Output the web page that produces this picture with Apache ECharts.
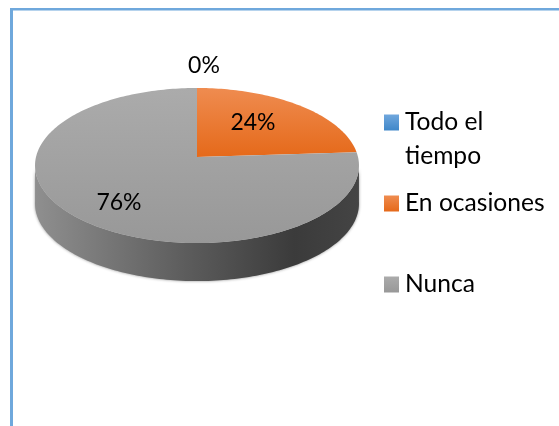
<!DOCTYPE html>
<html><head><meta charset="utf-8">
<style>html,body{margin:0;padding:0;background:#fff}#c{width:559px;height:426px}</style>
<script src="https://cdn.jsdelivr.net/npm/echarts@6/dist/echarts.min.js"></script>
</head><body><div id="c"></div>
<script>
const categories = ['Todo el tiempo', 'En ocasiones', 'Nunca'];
const values = [0, 24, 76];
const percentLabels = ['0%', '24%', '76%'];
const topColors = [['#70a7dd', '#3f87c9'], ['#ef8c50', '#e5691a'], ['#ababab', '#989898']];
const labelAnchors = [[204, 66], [253, 123], [119, 203]];

const FONT = 'Lato, "Open Sans", sans-serif';
// projected disc: apex, half-axes, perspective, extrusion
const P = {x: 197, y: 157, a: 161, b: 76.6, k: 0.11, depth: 38};
const total = values.reduce((s, v) => s + v, 0);
const starts = values.map((_, i) => values.slice(0, i).reduce((s, v) => s + v, 0));

function project(share) {
  const t = share / total * Math.PI * 2;
  const u = Math.sin(t), v = Math.cos(t), w = 1 + P.k * v;
  return [P.x + P.a * u / w, P.y - P.b * v / w];
}
function rim(start, value) {
  const n = Math.max(2, Math.ceil(value * 3)), pts = [];
  for (let i = 0; i <= n; i++) pts.push(project(start + value * i / n));
  return pts;
}
const vGrad = (c, y0, y1) => new echarts.graphic.LinearGradient(0, y0, 0, y1, [
  {offset: 0, color: c[0]}, {offset: 1, color: c[1]}], true);
const sideGrad = new echarts.graphic.LinearGradient(35, 0, 359, 0, [
  {offset: 0, color: '#8f8f8f'}, {offset: 0.45, color: '#5e5e5e'},
  {offset: 0.8, color: '#3b3b3b'}, {offset: 1, color: '#444444'}], true);

function makeRender(idx) {
  return function (params, api) {
    const value = api.value(0), start = api.value(1);
    const children = [];
    if (value > 0) {
      const pts = rim(start, value);
      // only the front of the rim shows a wall
      const front = pts.filter(p => p[1] >= P.y + 6);
      if (front.length > 1) {
        const lower = front.slice().reverse().map(p => [p[0], p[1] + P.depth]);
        children.push({type: 'polygon', shape: {points: front.concat(lower)},
          style: {fill: sideGrad, shadowBlur: 3, shadowColor: 'rgba(0,0,0,0.45)'}});
      }
      children.push({type: 'polygon', shape: {points: [[P.x, P.y]].concat(pts)},
        style: {fill: vGrad(topColors[idx], 88, idx === 1 ? 157 : 243)}});
    }
    children.push({type: 'text', x: labelAnchors[idx][0], y: labelAnchors[idx][1],
      z2: 10,
      style: {text: percentLabels[idx], fill: '#000', font: '23px ' + FONT, align: 'center', verticalAlign: 'middle'}});
    return {type: 'group', children};
  };
}

const chart = echarts.init(document.getElementById('c'), null, {renderer: 'canvas'});
chart.setOption({
  animation: false,
  backgroundColor: '#fff',
  legend: {
    orient: 'vertical', left: 384, top: 110, itemWidth: 15, itemHeight: 16, itemGap: 56,
    icon: 'rect', selectedMode: false, padding: 0,
    formatter: n => n === categories[0] ? 'Todo el' : n,
    textStyle: {fontFamily: FONT, fontSize: 24.6, color: '#000', padding: [0, 0, 0, 1]},
    data: categories.map((name, i) => ({name, itemStyle: {color:
      new echarts.graphic.LinearGradient(0, 0, 0, 1, [{offset: 0, color: topColors[i][0]}, {offset: 1, color: topColors[i][1]}])}}))
  },
  graphic: [
    {type: 'text', left: 405, top: 144, style: {text: 'tiempo', fill: '#000', font: '24.6px ' + FONT}},
    {type: 'rect', shape: {x: 10, y: 8, width: 549, height: 2.5}, style: {fill: '#6fa8dc'}},
    {type: 'rect', shape: {x: 10, y: 8, width: 3, height: 418}, style: {fill: '#6fa8dc'}}
  ],
  series: categories.map((name, i) => ({
    type: 'custom', name, coordinateSystem: 'none', silent: true,
    itemStyle: {color: topColors[i][1]},
    renderItem: makeRender(i),
    data: [[values[i], starts[i]]]
  }))
});
</script></body></html>
